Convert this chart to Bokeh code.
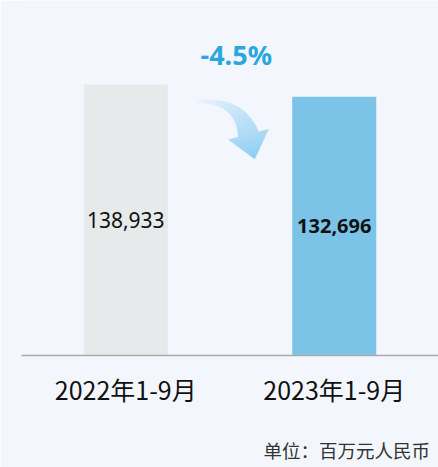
from bokeh.plotting import figure
from bokeh.models import FixedTicker, Range1d, LinearAxis
from bokeh.core.properties import value
from bokeh.embed import file_html
from bokeh.resources import INLINE

# ---- data ----
categories = ["2022年1-9月", "2023年1-9月"]
values = [138933, 132696]
value_labels = ["138,933", "132,696"]
change_label = "-4.5%"
unit_label = "单位：百万元人民币"
bar_colors = ["#e6eaea", "#7bc4e8"]

BG = "#f3f7fd"
W, H = 438, 467
BORDER_LEFT = 21
FRAME_W = W - BORDER_LEFT
FRAME_H = 355
Y_END = 182000
X_END = 2.0

p = figure(width=W, height=H, output_backend="svg", toolbar_location=None,
           x_range=Range1d(0, X_END), y_range=Range1d(0, Y_END),
           min_border_left=BORDER_LEFT, min_border_right=0, min_border_top=0,
           min_border_bottom=H - FRAME_H)
p.background_fill_color = BG
p.border_fill_color = BG
p.outline_line_color = None
p.grid.visible = False
p.yaxis.visible = False

xs = [0.5 + i for i in range(len(categories))]
p.vbar(x=xs, top=values, width=0.403, color=bar_colors, line_color=None)

xa = p.xaxis[0]
xa.ticker = FixedTicker(ticks=xs)
xa.major_label_overrides = {x: c for x, c in zip(xs, categories)}
xa.major_label_text_font = "Noto Sans CJK SC"
xa.major_label_text_font_size = "25px"
xa.major_label_text_color = "#111111"
xa.major_label_standoff = 9
xa.major_tick_line_color = None
xa.minor_tick_line_color = None
xa.axis_line_color = "#aaaaaa"
xa.axis_line_width = 1.5

# unit note: a second, line-less axis below the first, with one label near the right
unit_x = 1.56
ua = LinearAxis(ticker=FixedTicker(ticks=[unit_x]),
                major_label_overrides={unit_x: unit_label},
                major_label_text_font="Noto Sans CJK SC",
                major_label_text_font_size="18.5px",
                major_label_text_color="#333333",
                major_label_standoff=21,
                axis_line_color=None, major_tick_line_color=None,
                minor_tick_line_color=None)
p.add_layout(ua, "below")

# value labels in the middle of each bar
p.text(x=[xs[0]], y=[values[0] / 2], text=[value_labels[0]],
       text_font=value("Noto Sans"), text_font_size="21px", text_color="#111111",
       text_align="center", text_baseline="middle")
p.text(x=[xs[1]], y=[values[1] / 2], text=[value_labels[1]],
       text_font=value("Noto Sans"), text_font_size="20px", text_font_style="bold",
       text_color="#111111", text_align="center", text_baseline="middle")

# change label
p.text(x=[(xs[0] + xs[1]) / 2 + 0.03], y=[values[0] * 1.11], text=[change_label],
       text_font=value("Noto Sans"), text_font_size="27px", text_font_style="bold",
       text_color="#2ba6e0", text_align="center", text_baseline="middle")

# ---- curved arrow (decoration), built in pixel offsets from the gap between bars ----
px_x = X_END / FRAME_W          # data units per pixel (x)
px_y = Y_END / FRAME_H          # data units per pixel (y)
ax0 = xs[0] + 0.344             # tail x
ay0 = values[0] * 0.937         # tail y


def to_data(dx, dy):
    # dx right, dy down, in pixels from the tail
    return ax0 + dx * px_x, ay0 - dy * px_y


def lerp_color(c1, c2, t):
    a = [int(c1[i:i + 2], 16) for i in (1, 3, 5)]
    b = [int(c2[i:i + 2], 16) for i in (1, 3, 5)]
    return "#%02x%02x%02x" % tuple(round(a[k] + (b[k] - a[k]) * t) for k in range(3))


P0 = (0.0, 0.0)
P1 = (42.0, -2.0)
P2 = (51.0, 33.0)
N = 30
HALF_END = 10.5


def bez(t):
    x = (1 - t) ** 2 * P0[0] + 2 * (1 - t) * t * P1[0] + t * t * P2[0]
    y = (1 - t) ** 2 * P0[1] + 2 * (1 - t) * t * P1[1] + t * t * P2[1]
    tx = 2 * (1 - t) * (P1[0] - P0[0]) + 2 * t * (P2[0] - P1[0])
    ty = 2 * (1 - t) * (P1[1] - P0[1]) + 2 * t * (P2[1] - P1[1])
    n = (tx * tx + ty * ty) ** 0.5
    return x, y, tx / n, ty / n


def edge(t):
    x, y, tx, ty = bez(t)
    hw = 1.2 + (HALF_END - 1.2) * (t ** 1.4)
    nx, ny = -ty, tx
    return (x + nx * hw, y + ny * hw), (x - nx * hw, y - ny * hw)


c_start, c_mid, c_end = "#e6f4fd", "#afdaf5", "#88cdf1"
xs_list, ys_list, cols = [], [], []
for i in range(N):
    t0, t1 = i / N, (i + 1) / N
    a0, b0 = edge(t0)
    a1, b1 = edge(t1)
    pts = [a0, a1, b1, b0]
    d = [to_data(*q) for q in pts]
    xs_list.append([q[0] for q in d])
    ys_list.append([q[1] for q in d])
    cols.append(lerp_color(c_start, c_mid, (t0 + t1) / 2))

# arrow head
ex, ey, tx, ty = bez(1.0)
nx, ny = -ty, tx
HEAD_HALF = 20.5
HEAD_LEN = 25.0
M = 10
for j in range(M):
    s0, s1 = j / M, (j + 1) / M
    w0, w1 = HEAD_HALF * (1 - s0), HEAD_HALF * (1 - s1)
    c0 = (ex + tx * HEAD_LEN * s0, ey + ty * HEAD_LEN * s0)
    c1 = (ex + tx * HEAD_LEN * s1, ey + ty * HEAD_LEN * s1)
    pts = [(c0[0] + nx * w0, c0[1] + ny * w0), (c1[0] + nx * w1, c1[1] + ny * w1),
           (c1[0] - nx * w1, c1[1] - ny * w1), (c0[0] - nx * w0, c0[1] - ny * w0)]
    d = [to_data(*q) for q in pts]
    xs_list.append([q[0] for q in d])
    ys_list.append([q[1] for q in d])
    cols.append(lerp_color(c_mid, c_end, (s0 + s1) / 2))

p.patches(xs=xs_list, ys=ys_list, fill_color=cols, line_color=cols, line_width=0.6)

open("out.html", "w").write(file_html(p, INLINE))
